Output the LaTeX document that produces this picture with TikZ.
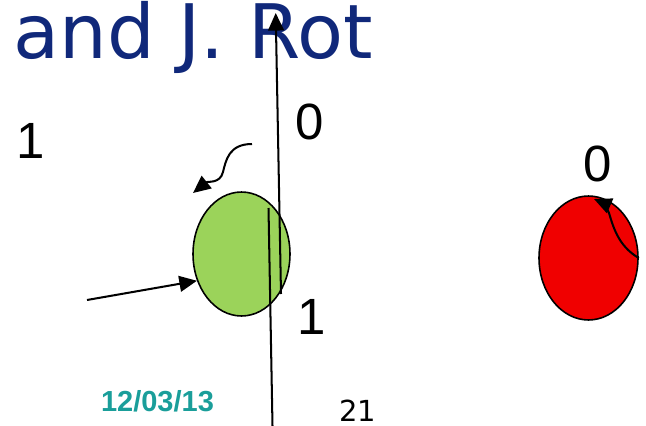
\documentclass[tikz,border=0pt]{standalone}
\usepackage{fontspec}
\setmainfont{Liberation Sans}
\newfontfamily\titlefont{DejaVu Sans}
\usetikzlibrary{arrows.meta,shapes.geometric}
\definecolor{titleblue}{HTML}{10287A}
\definecolor{datecyan}{HTML}{1A9E9A}
\definecolor{ballgreen}{HTML}{9BD35A}
\definecolor{ballred}{HTML}{F00000}

\begin{document}
\begin{tikzpicture}[x=0.02cm,y=-0.02cm,
  ball/.style={ellipse,draw=black,line width=0.9pt,minimum width=1.94cm,minimum height=2.48cm},
  digit/.style={inner sep=0pt,font=\fontsize{29}{29}\selectfont},
  arr/.style={line width=1.15pt,-{Triangle[length=10pt,width=9pt]}}]
\useasboundingbox (0,0) rectangle (646,426);
% Titel
\node[anchor=base west,inner sep=0pt,text=titleblue,font=\titlefont\fontsize{42.8}{42.8}\selectfont] (title) at (13,58) {and J. Rot};
% Kugeln
\node[ball,fill=ballgreen] (green) at (241.5,254) {};
\node[ball,fill=ballred,minimum width=1.98cm] (red) at (588.5,258) {};
% Ziffern
\foreach \name/\x/\y/\lab in {leftone/30.5/141/1, topzero/310/121.5/0, lowone/312/316.5/1, redzero/598/163.5/0}{
  \node[digit] (\name) at (\x,\y) {\lab};
}
% Linien
\coordinate (upbot) at (281,294);
\coordinate (uptop) at (275.7,13);
\coordinate (lotop) at (268.5,208);
\coordinate (lobot) at (272.5,426);
\draw[arr] (upbot) -- (uptop);
\draw[line width=1.15pt] (lotop) -- (lobot);
% Pfeile
\coordinate (lefttail) at (87,300);
\draw[arr] (lefttail) -- (green.211);
\coordinate (wavestart) at (252,144);
\coordinate (wavetip) at (193,193);
\draw[arr] (wavestart) .. controls (229,144) and (226,160) .. (223,172)
  .. controls (220,184) and (208,181) .. (wavetip);
\coordinate (redtip) at (594,199);
\draw[arr] (red.east) .. controls (618,246) and (613,226) .. (609,213)
  .. controls (606,206) and (601,202) .. (redtip);
% Fusszeile
\node[text=datecyan,font=\bfseries\fontsize{16.5}{16.5}\selectfont] (date) at (157.5,401.2) {12/03/13};
\node[inner sep=0pt,font=\titlefont\fontsize{16.5}{16.5}\selectfont] (page) at (357.5,411) {21};
\end{tikzpicture}
\end{document}
